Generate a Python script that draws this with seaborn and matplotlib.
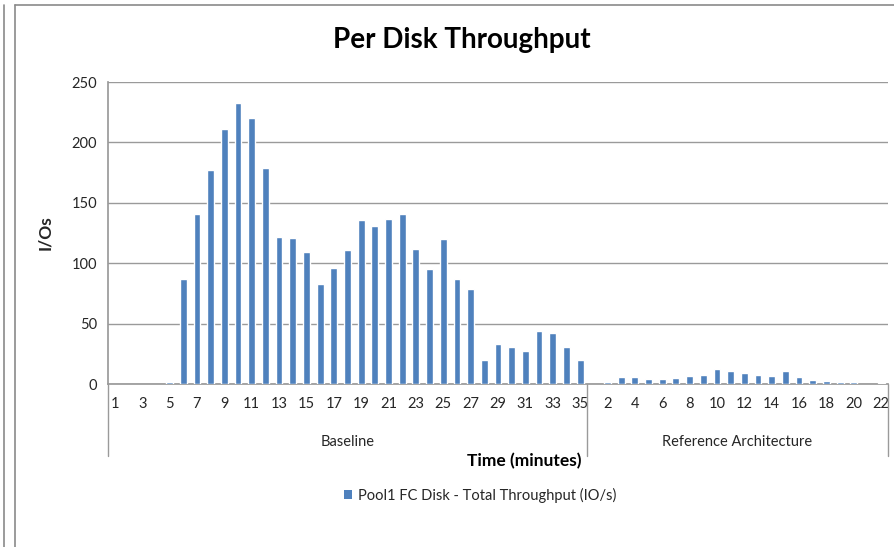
import matplotlib
matplotlib.use("Agg")
import matplotlib.pyplot as plt
import seaborn as sns
import pandas as pd
from matplotlib.lines import Line2D
from matplotlib.patches import Patch

baseline_minutes = list(range(1, 36))
baseline_values = [0, 0, 0, 0, 2, 87, 141, 177, 211, 233, 220, 179, 122, 121, 109, 83,
                   96, 111, 136, 131, 137, 141, 112, 95, 120, 87, 79, 20, 33, 31, 27,
                   44, 42, 31, 20]
ref_minutes = list(range(1, 23))
ref_values = [0, 2, 6, 6, 4.4, 3.9, 5.2, 6.6, 7.7, 12.4, 10.5, 8.8, 7.7, 6.9, 10.5,
              6, 3, 2.4, 1.6, 1.5, 0, 1]
groups = ["Baseline", "Reference Architecture"]
series_name = "Pool1 FC Disk - Total Throughput (IO/s)"
y_ticks = [0, 50, 100, 150, 200, 250]

rows = []
for m, v in zip(baseline_minutes, baseline_values):
    rows.append((groups[0], m, v))
for m, v in zip(ref_minutes, ref_values):
    rows.append((groups[1], m, v))
df = pd.DataFrame(rows, columns=["group", "minute", "value"])
df["key"] = [f"{g}|{m}" for g, m in zip(df["group"], df["minute"])]

sns.set_theme(style="white")
plt.rcParams["font.family"] = ["Lato", "DejaVu Sans"]

fig = plt.figure(figsize=(8.94, 5.47), dpi=100)
W, H = 894, 547
ax = fig.add_axes([108 / W, 1 - 384 / H, (888 - 108) / W, (384 - 82) / H])

bar_color = "#4F81BD"
sns.barplot(data=df, x="key", y="value", order=list(df["key"]), color=bar_color,
            width=0.5, ax=ax, saturation=1, errorbar=None)
for p in ax.patches:
    p.set_zorder(3)
    if p.get_height() == 0:
        p.set_visible(False)

n = len(df)
ax.set_xlim(-0.5, n - 0.5)
ax.set_ylim(0, 250)
ax.set_yticks(y_ticks)
ax.set_yticklabels([str(t) for t in y_ticks], fontsize=10.5, color="#262626")
ax.tick_params(axis="y", length=0, pad=8)
ax.yaxis.grid(True, color="#9a9a9a", linewidth=1)
ax.set_axisbelow(True)

ticks = list(range(0, n, 2))
ax.set_xticks(ticks)
ax.set_xticklabels([str(df["minute"].iloc[i]) for i in ticks], fontsize=10.5, color="#262626")
ax.tick_params(axis="x", length=0, pad=9)
ax.set_xlabel("")
ax.set_ylabel("I/Os", fontsize=12.5, fontweight="bold", labelpad=13)

for s in ["top", "right"]:
    ax.spines[s].set_visible(False)
ax.spines["left"].set_color("#9a9a9a")
ax.spines["bottom"].set_color("#9a9a9a")

# group separators and labels
nb = len(baseline_minutes)
sep_y = (384 - 456) / (384 - 82)
trans = ax.get_xaxis_transform()
for xpos in [-0.5, nb - 0.5, n - 0.5]:
    ax.add_line(Line2D([xpos, xpos], [0, sep_y], transform=trans, color="#9a9a9a",
                       linewidth=1, clip_on=False))
lab_y = (384 - 442) / (384 - 82)
ax.text((nb - 1) / 2, lab_y, groups[0], transform=trans, ha="center", va="center",
        fontsize=10.5, color="#262626")
ax.text(nb + (len(ref_minutes) - 1) / 2, lab_y, groups[1], transform=trans, ha="center",
        va="center", fontsize=10.5, color="#262626")

fig.text(462 / W, 1 - 40 / H, "Per Disk Throughput", ha="center", va="center",
         fontsize=20, fontweight="bold", color="black")
fig.text(524 / W, 1 - 461 / H, "Time (minutes)", ha="center", va="center",
         fontsize=12.5, fontweight="bold", color="black")

handle = Patch(facecolor=bar_color, edgecolor="none")
fig.legend([handle], [series_name], loc="center", bbox_to_anchor=(480 / W, 1 - 495 / H),
           frameon=False, fontsize=10.5, handlelength=0.6, handleheight=0.6,
           handletextpad=0.4, labelcolor="#262626")

# frame lines
fig.add_artist(Line2D([15 / W, 15 / W], [0, 1 - 5 / H], transform=fig.transFigure,
                      color="#8a8a8a", linewidth=1.2))
fig.add_artist(Line2D([15 / W, 1], [1 - 5 / H, 1 - 5 / H], transform=fig.transFigure,
                      color="#8a8a8a", linewidth=1.2))
fig.add_artist(Line2D([4 / W, 4 / W], [0, 1 - 5 / H], transform=fig.transFigure,
                      color="#8a8a8a", linewidth=1.2))

fig.savefig("out.png", dpi=100, facecolor="white")
